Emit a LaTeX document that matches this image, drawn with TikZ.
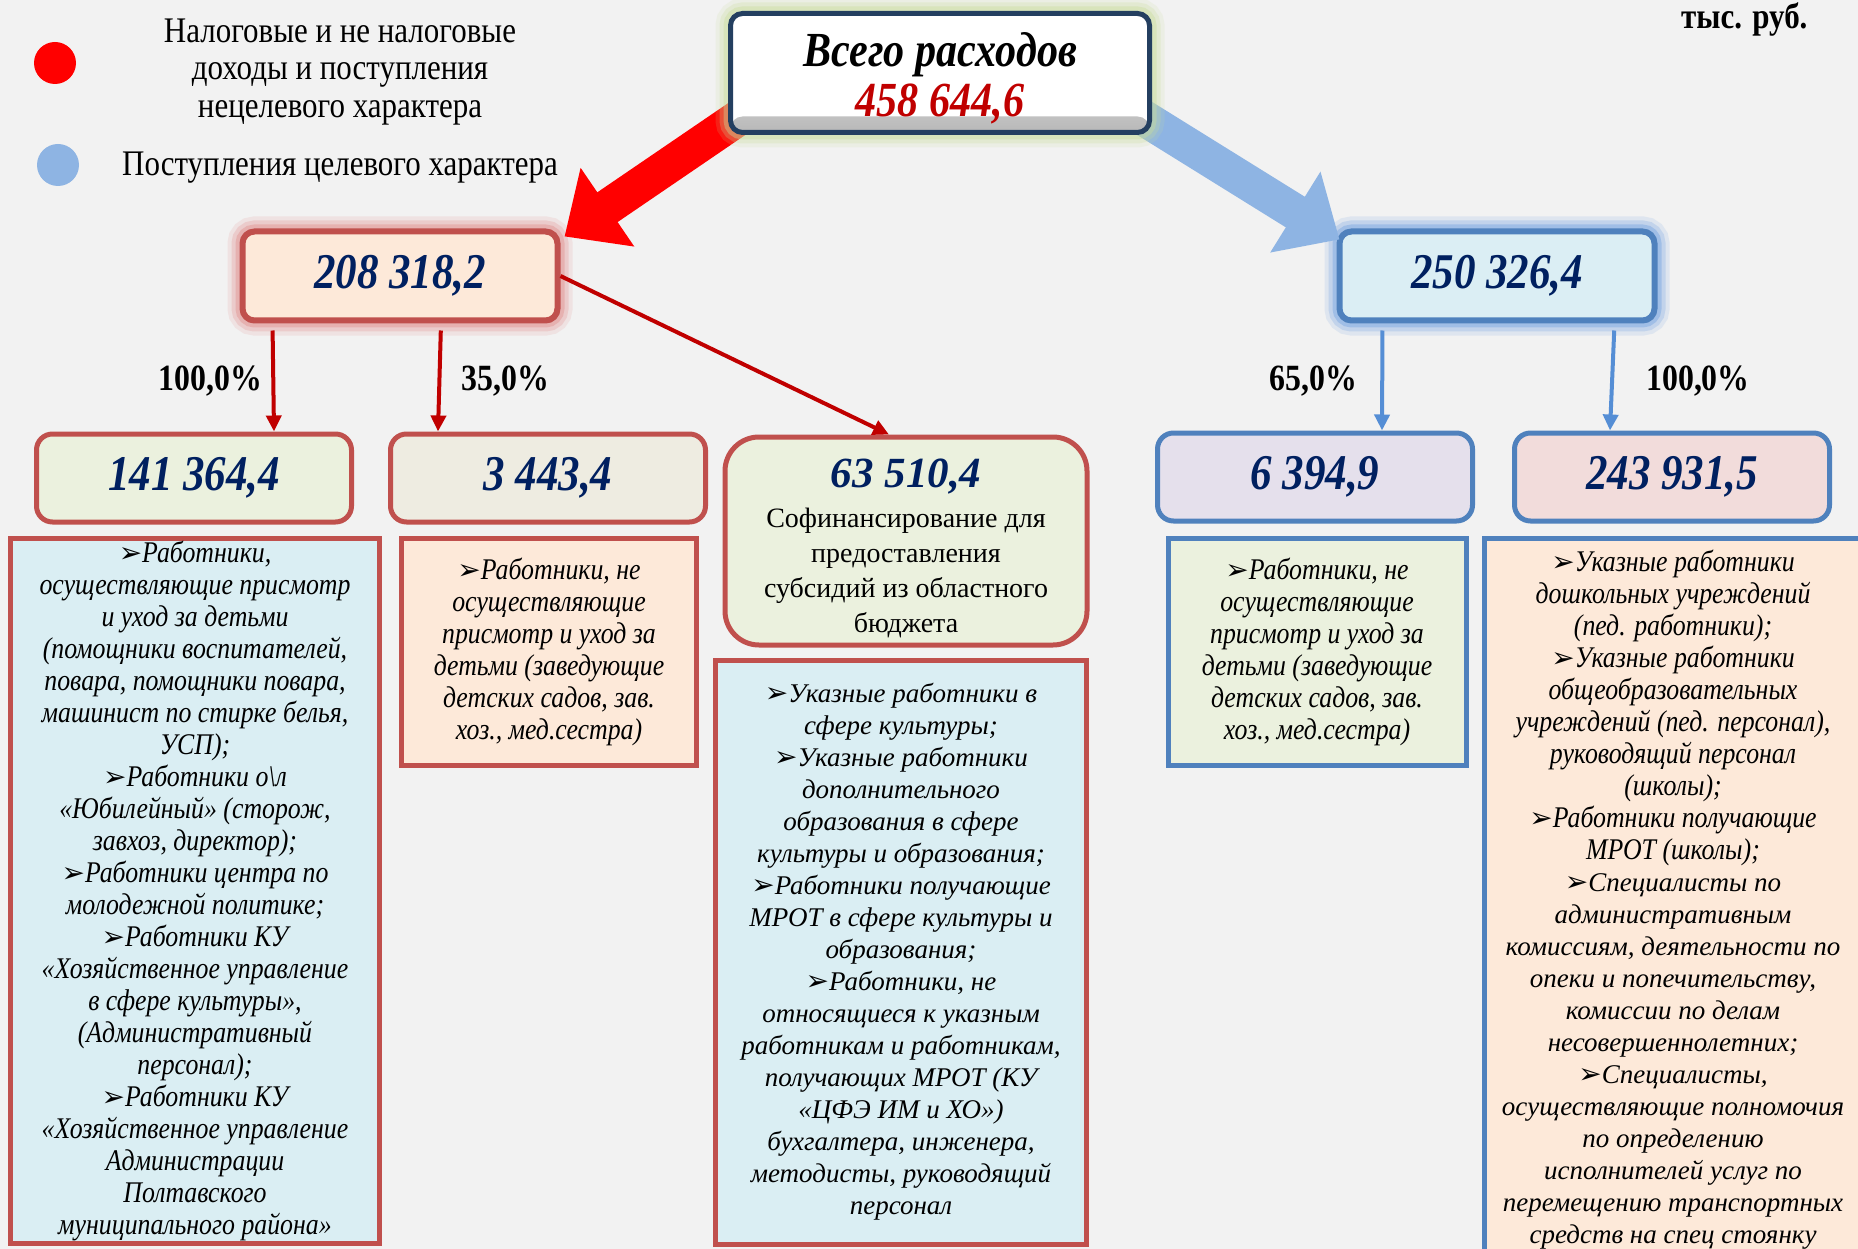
\documentclass[tikz,border=0pt]{standalone}
\usepackage{fontspec}
\setmainfont{Liberation Serif}
\newfontfamily\narrowserif[FakeStretch=0.86]{Liberation Serif}
\newfontfamily\arrowglyph{DejaVu Sans}
\usetikzlibrary{arrows.meta}

\definecolor{bgcol}{HTML}{F2F2F2}
\definecolor{redframe}{HTML}{C0504D}
\definecolor{blueframe}{HTML}{4F81BD}
\definecolor{topframe}{HTML}{243F60}
\definecolor{topglow}{HTML}{C9DD9A}
\definecolor{redglow}{HTML}{E08A88}
\definecolor{blueglow}{HTML}{6FA0E0}
\definecolor{numnavy}{HTML}{002060}
\definecolor{numred}{HTML}{C00000}
\definecolor{arrowred}{HTML}{C00000}
\definecolor{arrowblue}{HTML}{558ED5}
\definecolor{blockred}{HTML}{FF0000}
\definecolor{blockblue}{HTML}{8EB4E3}
\definecolor{fillblue}{HTML}{DAEEF3}
\definecolor{fillpeach}{HTML}{FDE9D9}
\definecolor{fillgreen}{HTML}{EBF1DE}
\definecolor{fillsand}{HTML}{EEECE1}
\definecolor{filllilac}{HTML}{E5E0EC}
\definecolor{fillrose}{HTML}{F2DCDB}
\definecolor{fillsky}{HTML}{DBEEF4}

\newcommand{\numfont}{\narrowserif\bfseries\itshape\fontsize{50}{54}\selectfont}
\newcommand{\topfont}{\narrowserif\bfseries\itshape\fontsize{49}{50}\selectfont}
\newcommand{\listfont}{\narrowserif\itshape\fontsize{30}{32}\selectfont}
\newcommand{\wideitfont}{\rmfamily\itshape\fontsize{27}{32}\selectfont}
\newcommand{\legendfont}{\narrowserif\fontsize{36}{37.5}\selectfont}
\newcommand{\pctfont}{\narrowserif\bfseries\fontsize{37}{38}\selectfont}
\newcommand{\itemmark}{{\arrowglyph\fontsize{28}{28}\selectfont\char"27A2}}

\begin{document}
\begin{tikzpicture}[x=1pt, y=-1pt,
	glow/.style={preaction={draw=#1, line width=30pt, opacity=.15}, preaction={draw=#1, line width=22pt, opacity=.25}, preaction={draw=#1, line width=14pt, opacity=.4}},
	topbox/.style={draw=topframe, line width=5pt, rounded corners=12pt, fill=white, minimum width=419pt, minimum height=119pt, inner sep=0pt, glow=topglow},
	sumbox/.style={line width=6pt, rounded corners=12pt, minimum width=315pt, minimum height=89pt, inner sep=0pt, font=\numfont, text=numnavy},
	partbox/.style={line width=5pt, rounded corners=16pt, minimum width=315pt, minimum height=88pt, inner sep=0pt, align=center, font=\numfont, text=numnavy},
	listbox/.style={line width=5pt, inner sep=0pt, align=center, font=\listfont},
	pct/.style={font=\pctfont, inner sep=0pt, yshift=-4pt},
	redarrow/.style={draw=arrowred, line width=4pt, -{Triangle[length=16pt,width=15pt]}},
	bluearrow/.style={draw=arrowblue, line width=4pt, -{Triangle[length=16pt,width=15pt]}}]
	\useasboundingbox (0,0) rectangle (1858,1249);
	\clip (0,0) rectangle (1858,1249);
	\fill[bgcol] (0,0) rectangle (1858,1249);

	% legend
	\fill[blockred] (55,63) circle (21);
	\fill[blockblue] (58,165) circle (21);
	\node[align=center, font=\legendfont] (legtax) at (340,72) {Налоговые и не налоговые\\доходы и поступления\\нецелевого характера};
	\node[font=\legendfont] (legaim) at (340,168) {Поступления целевого характера};
	\node[anchor=base east, font=\narrowserif\bfseries\fontsize{36}{36}\selectfont] (unit) at (1811,29) {тыс. руб.};

	% first level
	\node[sumbox, draw=redframe, fill=fillpeach, glow=redglow] (sumL) at (400,276) {208 318,2};
	\node[sumbox, draw=blueframe, fill=fillsky, glow=blueglow] (sumR) at (1497,276) {250 326,4};

	\coordinate (redstart) at (750,110);
	\coordinate (bluestart) at (1131,110);
	\draw[line width=36pt, blockred, -{Triangle[length=52pt,width=92pt]}] (redstart) -- ([xshift=4pt,yshift=-8pt]sumL.north east);
	\draw[line width=36pt, blockblue, -{Triangle[length=52pt,width=92pt]}] (bluestart) -- ([xshift=3pt,yshift=-11pt]sumR.north west);

	\node[topbox,
		path picture={\shade[top color=white, bottom color=black!28] ([yshift=16pt]path picture bounding box.south west) rectangle (path picture bounding box.south east);}]
		(top) at (940,73) {};
	\node[align=center, font=\topfont] (toptext) at (940,78) {Всего расходов\\\textcolor{numred}{458 644,6}};

	% second level
	\node[partbox, draw=redframe, fill=fillgreen] (partA) at (194,478) {141 364,4};
	\node[partbox, draw=redframe, fill=fillsand] (partB) at (548,478) {3 443,4};
	\node[partbox, draw=redframe, fill=fillgreen, rounded corners=34pt, minimum width=362pt, minimum height=208pt, text width=350pt, align=flush center,
		font=\rmfamily\fontsize{28}{35}\selectfont, text=black] (partC) at (906,541)
		{\rule{0pt}{44pt}{\bfseries\itshape\fontsize{43}{43}\selectfont\color{numnavy}63 510,4}\\[5pt]
		Софинансирование для\\предоставления\\субсидий из областного\\бюджета};
	\node[partbox, draw=blueframe, fill=filllilac] (partD) at (1315,477) {6 394,9};
	\node[partbox, draw=blueframe, fill=fillrose] (partE) at (1672,477) {243 931,5};

	\draw[redarrow, shorten <=7pt] ([xshift=33pt]sumL.south west) -- ([xshift=240pt]partA.north west) node[pct, midway, left=9pt] {100,0\%};
	\draw[redarrow, shorten <=7pt] ([xshift=41pt]sumL.south) -- ([xshift=50pt]partB.north west) node[pct, midway, right=20pt] {35,0\%};
	\draw[redarrow] (sumL.east) -- ([xshift=-17pt]partC.north);
	\draw[bluearrow, shorten <=7pt] ([xshift=46pt]sumR.south west) -- ([xshift=227pt]partD.north west) node[pct, midway, left=23pt] {65,0\%};
	\draw[bluearrow, shorten <=7pt] ([xshift=-43pt]sumR.south east) -- ([xshift=98pt]partE.north west) node[pct, midway, right=32pt] {100,0\%};

	% lists
	\node[listbox, draw=redframe, fill=fillblue, minimum width=369pt, minimum height=705pt] (listA) at (195,891)
		{\itemmark Работники,\\осуществляющие присмотр\\и уход за детьми\\(помощники воспитателей,\\повара, помощники повара,\\машинист по стирке белья,\\УСП);\\
		\itemmark Работники о\textbackslash л\\«Юбилейный» (сторож,\\завхоз, директор);\\
		\itemmark Работники центра по\\молодежной политике;\\
		\itemmark Работники КУ\\«Хозяйственное управление\\в сфере культуры»,\\(Административный\\персонал);\\
		\itemmark Работники КУ\\«Хозяйственное управление\\Администрации\\Полтавского\\муниципального района»};
	\node[listbox, draw=redframe, fill=fillpeach, minimum width=295pt, minimum height=227pt] (listB) at (549,652)
		{\itemmark Работники, не\\осуществляющие\\присмотр и уход за\\детьми (заведующие\\детских садов, зав.\\хоз., мед.сестра)};
	\node[listbox, draw=redframe, fill=fillblue, minimum width=371pt, minimum height=584pt, font=\wideitfont] (listC) at (901,952)
		{\itemmark Указные работники в\\сфере культуры;\\
		\itemmark Указные работники\\дополнительного\\образования в сфере\\культуры и образования;\\
		\itemmark Работники получающие\\МРОТ в сфере культуры и\\образования;\\
		\itemmark Работники, не\\относящиеся к указным\\работникам и работникам,\\получающих МРОТ (КУ\\«ЦФЭ ИМ и ХО»)\\бухгалтера, инженера,\\методисты, руководящий\\персонал};
	\node[listbox, draw=blueframe, fill=fillgreen, minimum width=298pt, minimum height=227pt] (listD) at (1317,652)
		{\itemmark Работники, не\\осуществляющие\\присмотр и уход за\\детьми (заведующие\\детских садов, зав.\\хоз., мед.сестра)};
	\node[listbox, draw=blueframe, fill=fillpeach, minimum width=378pt, minimum height=723pt, text width=372pt, align=flush center] (listE) at (1673,900)
		{\itemmark Указные работники\\дошкольных учреждений\\(пед. работники);\\
		\itemmark Указные работники\\общеобразовательных\\учреждений (пед. персонал),\\руководящий персонал\\(школы);\\
		\itemmark Работники получающие\\МРОТ (школы);\\
		\wideitfont\itemmark Специалисты по\\административным\\комиссиям, деятельности по\\опеки и попечительству,\\комиссии по делам\\несовершеннолетних;\\
		\itemmark Специалисты,\\осуществляющие полномочия\\по определению\\исполнителей услуг по\\перемещению транспортных\\средств на спец стоянку};
\end{tikzpicture}
\end{document}
